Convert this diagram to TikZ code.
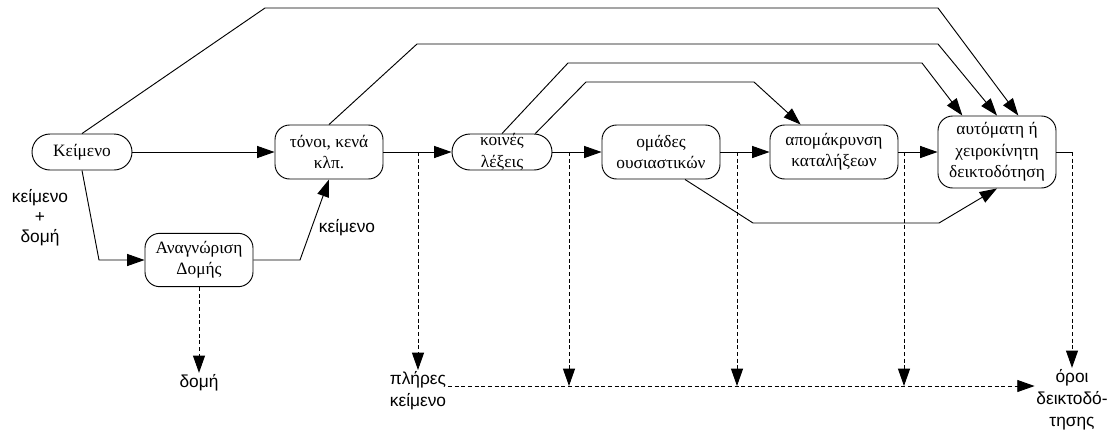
\documentclass[tikz,border=0pt]{standalone}
\usepackage{fontspec}
\setmainfont{Liberation Serif}
\setsansfont{Liberation Sans}
\usetikzlibrary{arrows.meta}

\tikzset{
  box/.style={draw, rounded corners=11pt, align=center, inner sep=0pt, font=\fontsize{13}{16}\selectfont},
  boxtext/.style={align=center, inner sep=0pt, font=\fontsize{13}{16}\selectfont},
  txt/.style={align=center, inner sep=1pt, font=\sffamily\fontsize{13}{16.5}\selectfont},
  flow/.style={dash pattern=on 3pt off 2pt}
}

\begin{document}
\begin{tikzpicture}[x=0.75pt, y=-0.75pt, >={Triangle[length=13pt,width=9pt]}, line width=0.7pt]
      \useasboundingbox (0,0) rectangle (1117,430);

      \node[box, minimum width=75pt, minimum height=27pt, rounded corners=13.5pt] (K) at (82,152) {Κείμενο};
      \node[box, minimum width=81pt, minimum height=40.5pt] (T) at (329,152) {τόνοι, κενά\\κλπ.};
      \node[box, minimum width=81pt, minimum height=40pt] (A) at (199,260) {Αναγνώριση\\Δομής};
      \node[box, minimum width=75pt, minimum height=27pt, rounded corners=13.5pt,
            label={[boxtext]center:κοινές\\λέξεις}] (L) at (502,152) {};
      \node[box, minimum width=88.5pt, minimum height=40.5pt] (O) at (661,152) {ομάδες\\ουσιαστικών};
      \node[box, minimum width=96pt, minimum height=40.5pt] (P) at (834,152) {απομάκρυνση\\καταλήξεων};
      \node[box, minimum width=88.5pt, minimum height=54pt] (D) at (997,152) {αυτόματη ή\\χειροκίνητη\\δεικτοδότηση};

      \node[txt, font=\sffamily\fontsize{13}{15}\selectfont] (kd) at (40,218) {κείμενο\\+\\δομή};
      \node[txt] (k2) at (347,228) {κείμενο};
      \node[txt] (dom) at (199,383) {δομή};
      \node[txt, align=left] (pl) at (418,391) {πλήρες\\κείμενο};
      \node[txt] (or) at (1072,400) {όροι\\δεικτοδό-\\τησης};

      \coordinate (b1) at (569,386);
      \coordinate (b2) at (737,386);
      \coordinate (b3) at (904,386);

      \draw[->] (K) -- (T);
      \draw[->] (K.south) -- (99,260) -- (A);
      \draw[->] (A) -- (300,260) -- (T.south);
      \draw[->] (T) -- (L);
      \draw[->] (L) -- (O);
      \draw[->] (O) -- (P);
      \draw[->] (P) -- (D);
      \draw (D) -- (or.north |- D.east);

      \draw[->] (K.north) -- (265,8) -- (938,8) -- ([xshift=16pt]D.north);
      \draw[->] (T.north) -- (417,44) -- (938,44) -- (D.north);
      \draw[->] (L.north) -- (568,63) -- (922,63) -- ([xshift=-26pt]D.north);
      \draw[->] ([xshift=25pt]L.north) -- (586,82) -- (754,82) -- ([xshift=-25pt]P.north);
      \draw[->] ([xshift=18pt]O.south) -- (753,223) -- (939,223) -- (D.south);

      \draw[flow,->] (A) -- (dom);
      \draw[flow,->] (pl.north |- T.east) -- (pl.north);
      \draw[flow,->] (b1 |- L.east) -- (b1);
      \draw[flow,->] (b2 |- O.east) -- (b2);
      \draw[flow,->] (b3 |- P.east) -- (b3);
      \draw[flow,->] (or.north |- D.east) -- (or.north);
      \draw[flow,->] (pl.east |- b1) -- (or.west |- b1);
    \end{tikzpicture}
\end{document}
